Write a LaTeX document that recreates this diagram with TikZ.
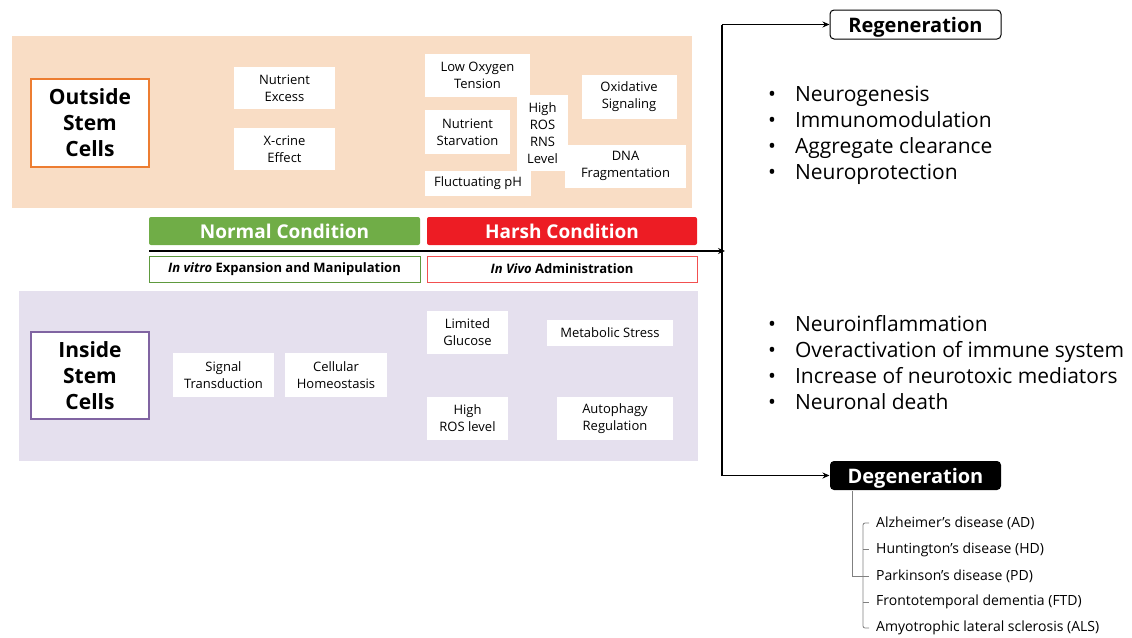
\documentclass[tikz,border=0pt]{standalone}
\usepackage{fontspec}
\setmainfont{Open Sans}
\usetikzlibrary{arrows.meta}
\definecolor{peach}{HTML}{F9DDC5}
\definecolor{lav}{HTML}{E5E0EE}
\definecolor{orangeb}{HTML}{ED7D31}
\definecolor{purpleb}{HTML}{8064A2}
\definecolor{greenc}{HTML}{70AD47}
\definecolor{redc}{HTML}{ED1C24}
\definecolor{greenb}{HTML}{5E9A3E}
\definecolor{redb}{HTML}{F25050}
\definecolor{treeg}{HTML}{808080}
\begin{document}
\begin{tikzpicture}[x=1pt,y=-1pt,
  titlebox/.style={fill=white, line width=2pt, align=center, inner sep=0pt,
    font=\fontsize{21}{26}\selectfont\bfseries},
  sbox/.style={fill=white, align=center, inner sep=0pt,
    font=\fontsize{13}{17}\selectfont},
  condbox/.style={rounded corners=2pt, inner sep=0pt, text=white, text depth=0pt,
    minimum height=28, font=\fontsize{19}{22}\selectfont\bfseries},
  subbox/.style={fill=white, line width=1pt, inner sep=0pt, minimum height=26,
    font=\fontsize{13}{15}\selectfont\bfseries},
  outbox/.style={rounded corners=4pt, line width=1pt, inner sep=0pt, text depth=0pt,
    minimum width=171, minimum height=29, font=\fontsize{20}{24}\selectfont\bfseries},
  mainline/.style={line width=1.6pt},
  arr/.style={line width=1.4pt, -{Stealth[length=7pt,width=6pt]}},
  listnode/.style={anchor=west, inner sep=0pt, align=left,
    font=\fontsize{21}{26}\selectfont},
  disease/.style={anchor=west, inner sep=0pt, font=\fontsize{14}{17}\selectfont},
  tree/.style={draw=treeg, line width=0.8pt}
]
\useasboundingbox (0,0) rectangle (1132,637);

% backgrounds
\fill[peach] (12,36) rectangle (692,208);
\fill[lav] (19,291) rectangle (698,461);

% outside stem cells
\node[titlebox, draw=orangeb, minimum width=118, minimum height=88] (osc) at (90,123) {Outside\\Stem\\Cells};
\node[sbox, minimum width=101, minimum height=42] (ne) at (284.5,88) {Nutrient\\Excess};
\node[sbox, minimum width=101, minimum height=42] (xc) at (284.5,149) {X-crine\\Effect};
\node[sbox, minimum width=105, minimum height=43] (lo) at (477.5,75) {Low Oxygen\\Tension};
\node[sbox, minimum width=85, minimum height=44] (ns) at (467.5,132) {Nutrient\\Starvation};
\node[sbox, minimum width=51, minimum height=76] (hr) at (542.5,133) {High\\ROS\\RNS\\Level};
\node[sbox, minimum width=95, minimum height=44] (os) at (629,97) {Oxidative\\Signaling};
\node[sbox, minimum width=121, minimum height=43] (dna) at (625.5,166) {DNA\\Fragmentation};
\node[sbox, minimum width=106, minimum height=25] (ph) at (478,183.5) {Fluctuating pH};

% conditions
\node[condbox, fill=greenc, minimum width=271] (nc) at (284.5,231) {Normal Condition};
\node[condbox, fill=redc, minimum width=270] (hc) at (562,231) {Harsh Condition};
\node[subbox, draw=greenb, minimum width=271] (iv) at (284.5,269) {\textit{In vitro} Expansion and Manipulation};
\node[subbox, draw=redb, minimum width=270] (ivv) at (562,269) {\textit{In Vivo} Administration};

% inside stem cells
\node[titlebox, draw=purpleb, minimum width=118, minimum height=87] (isc) at (90,375.5) {Inside\\Stem\\Cells};
\node[sbox, minimum width=101, minimum height=44] (st) at (223.5,375) {Signal\\Transduction};
\node[sbox, minimum width=102, minimum height=44] (ch) at (336,375) {Cellular\\Homeostasis};
\node[sbox, minimum width=81, minimum height=43] (lg) at (467.5,332.5) {Limited\\Glucose};
\node[sbox, minimum width=126, minimum height=26] (ms) at (610,333) {Metabolic Stress};
\node[sbox, minimum width=81, minimum height=43] (hrl) at (467.5,418.5) {High\\ROS level};
\node[sbox, minimum width=116, minimum height=43] (ar) at (615,418.5) {Autophagy\\Regulation};

% outcomes
\node[outbox, draw=black, fill=white] (reg) at (915.5,24.5) {Regeneration};
\node[outbox, fill=black, text=white] (deg) at (915.5,475.5) {Degeneration};

\coordinate (ls) at (149,251);
\coordinate (vt) at (722,24.5);
\coordinate (vb) at (722,475.5);
\draw[mainline] (vt) -- (vb);
\draw[mainline, -{Stealth[length=7pt,width=6pt]}] (ls) -- ([xshift=3]ls -| vt);
\draw[arr] (vt) -- (reg.west);
\draw[arr] (vb) -- (deg.west);

% lists
\node[listnode] (regl) at (768,135) {\begin{tabular}{@{}l@{\hspace{19pt}}l@{}}
\textbullet & Neurogenesis\\
\textbullet & Immunomodulation\\
\textbullet & Aggregate clearance\\
\textbullet & Neuroprotection
\end{tabular}};
\node[listnode] (degl) at (768,365.5) {\begin{tabular}{@{}l@{\hspace{19pt}}l@{}}
\textbullet & Neuroinflammation\\
\textbullet & Overactivation of immune system\\
\textbullet & Increase of neurotoxic mediators\\
\textbullet & Neuronal death
\end{tabular}};

% diseases
\node[disease] (d1) at (876,523) {Alzheimer’s disease (AD)};
\node[disease] (d2) at (876,549.5) {Huntington’s disease (HD)};
\node[disease] (d3) at (876,576) {Parkinson’s disease (PD)};
\node[disease] (d4) at (876,602) {Frontotemporal dementia (FTD)};
\node[disease] (d5) at (876,628) {Amyotrophic lateral sclerosis (ALS)};
\draw[tree] ([xshift=-63.5]deg.south) |- ([xshift=-13]d3.west);
\draw[tree, rounded corners=2pt] ([xshift=-7]d1.west) -- ([xshift=-13]d1.west) -- ([xshift=-13]d5.west) -- ([xshift=-7]d5.west);
\draw[tree] ([xshift=-13]d2.west) -- ([xshift=-7]d2.west);
\draw[tree] ([xshift=-13]d3.west) -- ([xshift=-7]d3.west);
\draw[tree] ([xshift=-13]d4.west) -- ([xshift=-7]d4.west);
\end{tikzpicture}
\end{document}
